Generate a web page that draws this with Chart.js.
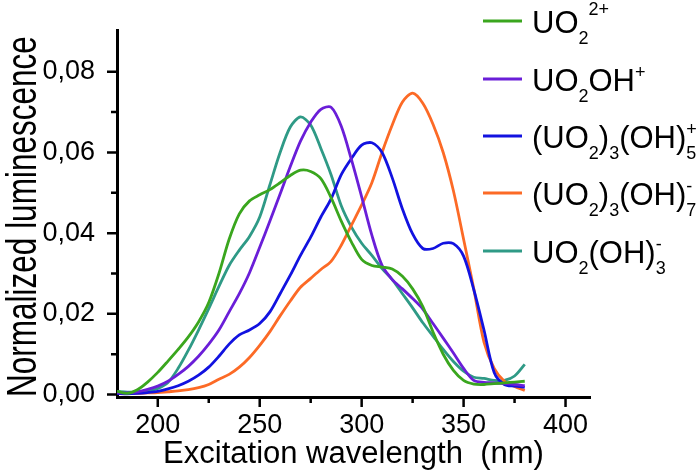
<!DOCTYPE html>
<html lang="en">
<head>
<meta charset="UTF-8">
<title>Excitation spectra</title>
<script src="https://cdn.jsdelivr.net/npm/chart.js"></script>
<style>
    body { margin: 0; background: #fff; }
    #wrap { width: 700px; height: 476px; }
</style>
</head>
<body>
<div id="wrap"><canvas id="chart" width="700" height="476"></canvas></div>
<script>
// wavelengths in nm
const wavelengths = [180, 185, 190, 195, 200, 205, 210, 215, 220, 225, 230, 235, 240, 245, 250, 255, 260, 265, 270, 275,
    280, 285, 290, 295, 300, 305, 310, 315, 320, 325, 330, 335, 340, 345, 350, 355, 360, 365, 370, 375, 380];

const uo2 = [0.0008, 0.0003, 0.0012, 0.0031, 0.0055, 0.0083, 0.0112, 0.0143, 0.0180, 0.0228, 0.0300, 0.0385, 0.0448, 0.0480,
    0.0495, 0.0508, 0.0525, 0.0543, 0.0556, 0.0553, 0.0535, 0.0488, 0.0430, 0.0378, 0.0335, 0.0320, 0.0316, 0.0311, 0.0293,
    0.0262, 0.0218, 0.0155, 0.0100, 0.0060, 0.0035, 0.0026, 0.0025, 0.0027, 0.0029, 0.0031, 0.0033];

const uo2oh = [0.0005, 0.0004, 0.0007, 0.0013, 0.0021, 0.0033, 0.0050, 0.0070, 0.0095, 0.0125, 0.0160, 0.0205, 0.0250, 0.0302,
    0.0365, 0.0430, 0.0497, 0.0565, 0.0628, 0.0675, 0.0707, 0.0712, 0.0665, 0.0582, 0.0490, 0.0395, 0.0320, 0.0285, 0.0262,
    0.0238, 0.0212, 0.0176, 0.0140, 0.0103, 0.0065, 0.0035, 0.0030, 0.0029, 0.0027, 0.0025, 0.0022];

const tri5 = [0.0003, 0.0002, 0.0003, 0.0005, 0.0008, 0.0014, 0.0022, 0.0033, 0.0048, 0.0068, 0.0095, 0.0125, 0.0148, 0.0160,
    0.0176, 0.0205, 0.0250, 0.0296, 0.0345, 0.0390, 0.0440, 0.0485, 0.0545, 0.0585, 0.0618, 0.0624, 0.0600, 0.0537, 0.0460,
    0.0398, 0.0362, 0.0362, 0.0375, 0.0374, 0.0343, 0.0260, 0.0160, 0.0055, 0.0025, 0.0021, 0.0018];

const tri7 = [0.0004, 0.0003, 0.0003, 0.0004, 0.0005, 0.0007, 0.0009, 0.0012, 0.0017, 0.0025, 0.0038, 0.0050, 0.0068, 0.0092,
    0.0122, 0.0156, 0.0195, 0.0232, 0.0266, 0.0288, 0.0310, 0.0330, 0.0370, 0.0420, 0.0470, 0.0525, 0.0600, 0.0668, 0.0725,
    0.0747, 0.0722, 0.0670, 0.0600, 0.0505, 0.0385, 0.0262, 0.0130, 0.0065, 0.0033, 0.0020, 0.0010];

const uo2oh3 = [0.0008, 0.0006, 0.0006, 0.0008, 0.0015, 0.0030, 0.0065, 0.0110, 0.0160, 0.0213, 0.0268, 0.0320, 0.0358, 0.0392,
    0.0440, 0.0520, 0.0600, 0.0663, 0.0688, 0.0668, 0.0610, 0.0545, 0.0468, 0.0415, 0.0375, 0.0345, 0.0312, 0.0285, 0.0250,
    0.0215, 0.0178, 0.0145, 0.0112, 0.0082, 0.0058, 0.0043, 0.0040, 0.0035, 0.0035, 0.0046, 0.0075];

const xTicks = [200, 250, 300, 350, 400];
const yTicks = [0, 0.02, 0.04, 0.06, 0.08];

// legend text: [text, 'n' | 'sub' | 'sup', stacked with next]
const seriesNames = ['UO2 2+', 'UO2OH+', '(UO2)3(OH)5+', '(UO2)3(OH)7-', 'UO2(OH)3-'];
const legendLabels = [
    [['UO', 'n'], ['2', 'sub'], ['2+', 'sup']],
    [['UO', 'n'], ['2', 'sub'], ['OH', 'n'], ['+', 'sup']],
    [['(UO', 'n'], ['2', 'sub'], [')', 'n'], ['3', 'sub'], ['(OH)', 'n'], ['+', 'sup', true], ['5', 'sub']],
    [['(UO', 'n'], ['2', 'sub'], [')', 'n'], ['3', 'sub'], ['(OH)', 'n'], ['-', 'sup', true], ['7', 'sub']],
    [['UO', 'n'], ['2', 'sub'], ['(OH)', 'n'], ['-', 'sup', true], ['3', 'sub']]
];
const colors = ['#3aa61e', '#6a1ed8', '#1212e0', '#fc6a26', '#2f9a86'];

const allSeries = [uo2, uo2oh, tri5, tri7, uo2oh3];

const FONT = '"Liberation Sans", Arial, Helvetica, sans-serif';
Chart.defaults.font.family = FONT;
Chart.defaults.color = '#000';

// tick marks (major and minor have different lengths) + y title
const tickMarks = {
    id: 'tickMarks',
    afterDraw(chart) {
        const { ctx, chartArea } = chart;
        const x = chart.scales.x, y = chart.scales.y;
        ctx.save();
        ctx.strokeStyle = '#000';
        ctx.lineWidth = 2.5;
        ctx.beginPath();
        for (let v = 200; v <= 400; v += 25) {
            const px = x.getPixelForValue(v);
            const len = v % 50 === 0 ? 10 : 6;
            ctx.moveTo(px, chartArea.bottom);
            ctx.lineTo(px, chartArea.bottom + len);
        }
        for (let i = 0; i <= 8; i++) {
            const py = y.getPixelForValue(i * 0.01);
            const len = i % 2 === 0 ? 10 : 6;
            ctx.moveTo(chartArea.left - len, py);
            ctx.lineTo(chartArea.left, py);
        }
        ctx.stroke();

        // y title, condensed like the original figure
        ctx.fillStyle = '#000';
        ctx.font = '42px ' + FONT;
        ctx.textAlign = 'center';
        ctx.textBaseline = 'alphabetic';
        ctx.translate(36, (chartArea.top + chartArea.bottom) / 2 + 3);
        ctx.rotate(-Math.PI / 2);
        ctx.scale(0.75, 1);
        ctx.fillText('Normalized luminescence', 0, 0);
        ctx.restore();
    }
};

// legend with sub/superscripts
const richLegend = {
    id: 'richLegend',
    afterDraw(chart) {
        const { ctx } = chart;
        const rowY = [21, 79, 136, 193, 251];
        ctx.save();
        chart.data.datasets.forEach((ds, i) => {
            const y = rowY[i];
            ctx.strokeStyle = ds.borderColor;
            ctx.lineWidth = 3;
            ctx.beginPath();
            ctx.moveTo(483, y);
            ctx.lineTo(522, y);
            ctx.stroke();

            let x = 532;
            const base = y + 12;
            let pending = 0;
            ctx.fillStyle = '#000';
            ctx.textBaseline = 'alphabetic';
            legendLabels[i].forEach(seg => {
                const [txt, kind, stack] = seg;
                let dy = 0;
                ctx.font = (kind === 'n' ? '31px ' : '18px ') + FONT;
                if (kind === 'sub') dy = 11;
                if (kind === 'sup') dy = (i === 0 ? -18 : -13);
                ctx.fillText(txt, x, base + dy);
                const w = ctx.measureText(txt).width;
                if (stack) {
                    pending = w;
                } else {
                    x += Math.max(w, pending);
                    pending = 0;
                }
            });
        });
        ctx.restore();
    }
};

const datasets = allSeries.map((s, i) => ({
    label: seriesNames[i],
    data: wavelengths.map((w, j) => ({ x: w, y: s[j] })),
    borderColor: colors[i],
    backgroundColor: colors[i],
    borderWidth: 2.8,
    pointRadius: 0,
    tension: 0.3,
    fill: false
}));

new Chart(document.getElementById('chart'), {
    type: 'line',
    data: { datasets: datasets },
    options: {
        responsive: false,
        animation: false,
        layout: { padding: { top: 6, right: 110, left: 0, bottom: 0 } },
        plugins: {
            legend: { display: false },
            tooltip: { enabled: false }
        },
        scales: {
            x: {
                type: 'linear',
                min: 180,
                max: 412,
                afterFit: s => { s.height = 79; },
                grid: { display: false },
                border: { display: true, color: '#000', width: 3 },
                afterBuildTicks: s => { s.ticks = xTicks.map(v => ({ value: v })); },
                ticks: {
                    padding: 4,
                    font: { size: 27 },
                    callback: v => String(v)
                },
                title: {
                    display: true,
                    text: 'Excitation wavelength  (nm)',
                    font: { size: 31 },
                    padding: { top: 0, bottom: 3 }
                }
            },
            y: {
                min: -0.0006,
                max: 0.0903,
                afterFit: s => { s.width = 117; },
                grid: { display: false },
                border: { display: true, color: '#000', width: 3 },
                afterBuildTicks: s => { s.ticks = yTicks.map(v => ({ value: v })); },
                ticks: {
                    padding: 14,
                    font: { size: 27 },
                    callback: v => v.toFixed(2).replace('.', ',')
                }
            }
        }
    },
    plugins: [tickMarks, richLegend]
});
</script>
</body>
</html>
